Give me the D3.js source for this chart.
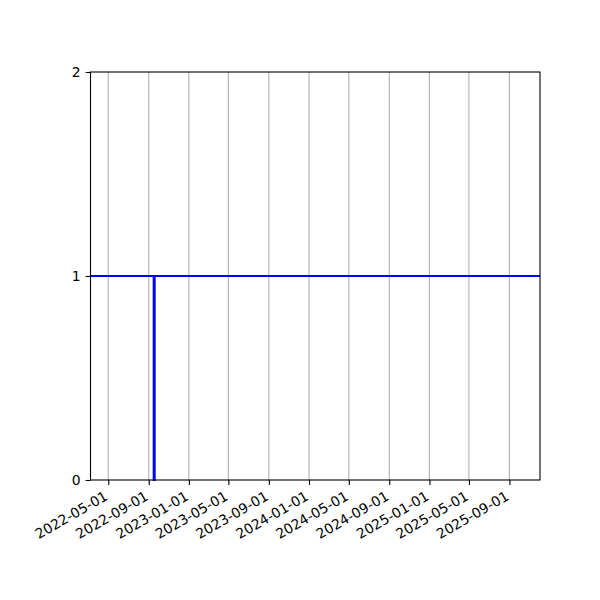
<!DOCTYPE html>
<html>
<head>
<meta charset="utf-8">
<script src="https://cdn.jsdelivr.net/npm/d3@7"></script>
<style>
  body { margin: 0; background: #fff; }
  svg { display: block; }
  text { font-family: "DejaVu Sans", sans-serif; }
</style>
</head>
<body>
<div id="chart"></div>
<script>
// Data
const xDomain = ["2022-03-08", "2025-12-03"];
const yTicks = [0, 1, 2];
const xTicks = ["2022-05-01", "2022-09-01", "2023-01-01", "2023-05-01", "2023-09-01",
                "2024-01-01", "2024-05-01", "2024-09-01", "2025-01-01", "2025-05-01", "2025-09-01"];
// step series: level 1 everywhere, with a short drop to 0 in mid September 2022
const stepDates = ["2022-03-08", "2022-09-16", "2022-09-16", "2022-09-19", "2022-09-19", "2025-12-03"];
const stepValues = [1, 1, 0, 0, 1, 1];

const parse = d3.utcParse("%Y-%m-%d");
const fmt = d3.utcFormat("%Y-%m-%d");

const width = 600, height = 600;
const margin = { top: 72, right: 60, bottom: 120, left: 90.5 };

const svg = d3.select("#chart").append("svg")
    .attr("width", width)
    .attr("height", height);

const x = d3.scaleUtc()
    .domain(xDomain.map(parse))
    .range([margin.left, width - margin.right]);

const y = d3.scaleLinear()
    .domain([0, 2])
    .range([height - margin.bottom, margin.top]);

// Vertical grid lines at the x ticks
svg.append("g")
    .selectAll("line")
    .data(xTicks.map(parse))
    .join("line")
    .attr("x1", d => x(d)).attr("x2", d => x(d))
    .attr("y1", y(0)).attr("y2", y(2))
    .attr("stroke", "#b0b0b0")
    .attr("stroke-width", 1.1);

// Blue step line
const line = d3.line()
    .x((d, i) => x(parse(stepDates[i])))
    .y(d => y(d));

svg.append("path")
    .datum(stepValues)
    .attr("d", line)
    .attr("fill", "none")
    .attr("stroke", "#0000ff")
    .attr("stroke-width", 2);

// Frame
svg.append("rect")
    .attr("x", margin.left)
    .attr("y", margin.top)
    .attr("width", width - margin.right - margin.left)
    .attr("height", height - margin.bottom - margin.top)
    .attr("fill", "none")
    .attr("stroke", "#000")
    .attr("stroke-width", 1.1);

// X axis
const xAxis = svg.append("g")
    .attr("transform", `translate(0,${height - margin.bottom})`)
    .call(d3.axisBottom(x)
        .tickValues(xTicks.map(parse))
        .tickFormat(fmt)
        .tickSize(4.9)
        .tickPadding(4.9));

xAxis.select(".domain").remove();
xAxis.selectAll(".tick line").attr("stroke", "#000").attr("stroke-width", 1.1);
xAxis.selectAll(".tick text")
    .attr("font-size", "13.9px")
    .attr("font-family", "DejaVu Sans, sans-serif")
    .attr("fill", "#000")
    .attr("text-anchor", "end")
    .attr("dy", null)
    .attr("y", null)
    .attr("transform", "translate(0,19) rotate(-30)");

// Y axis
const yAxis = svg.append("g")
    .attr("transform", `translate(${margin.left},0)`)
    .call(d3.axisLeft(y)
        .tickValues(yTicks)
        .tickFormat(d3.format("d"))
        .tickSize(4.9)
        .tickPadding(4.9));

yAxis.select(".domain").remove();
yAxis.selectAll(".tick line").attr("stroke", "#000").attr("stroke-width", 1.1);
yAxis.selectAll(".tick text")
    .attr("font-size", "13.9px")
    .attr("font-family", "DejaVu Sans, sans-serif")
    .attr("fill", "#000");
</script>
</body>
</html>
